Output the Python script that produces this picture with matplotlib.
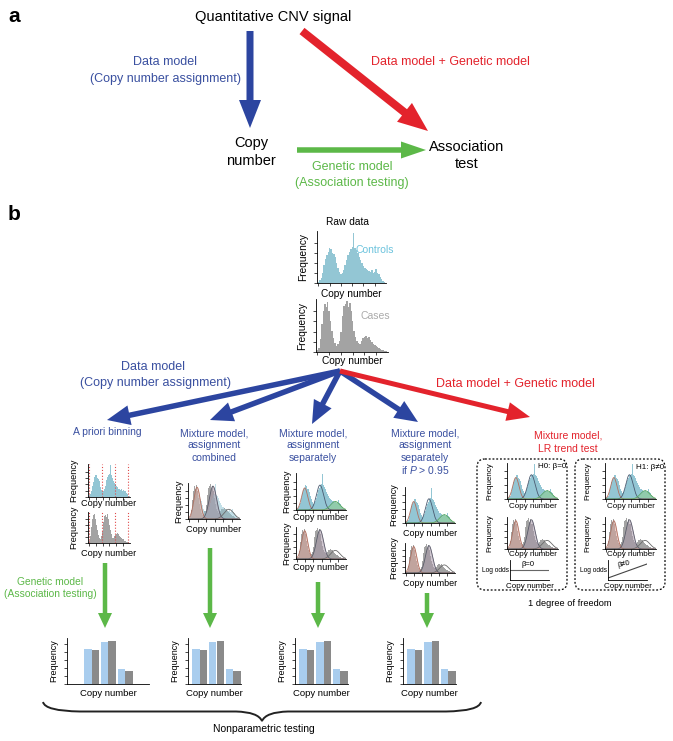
import numpy as np
import matplotlib
matplotlib.use("Agg")
import matplotlib.pyplot as plt
from matplotlib.path import Path
from matplotlib.patches import PathPatch, FancyBboxPatch

plt.rcParams['font.family'] = ['Liberation Sans', 'DejaVu Sans']
plt.rcParams['mathtext.fontset'] = 'custom'
plt.rcParams['mathtext.rm'] = 'Liberation Sans'
plt.rcParams['mathtext.it'] = 'Liberation Sans:italic'

# raw histogram heights (48 bins, relative)
controls_counts = [2, 5, 10, 20, 35, 48, 55, 62, 70, 68, 60, 58, 52, 40, 30, 22,
                   18, 20, 25, 35, 45, 55, 62, 68, 72, 100, 70, 66, 60, 52, 45, 40,
                   34, 30, 28, 26, 24, 22, 25, 20, 22, 28, 20, 18, 12, 8, 4, 2]
cases_counts = [3, 8, 25, 55, 80, 95, 88, 98, 80, 60, 42, 28, 18, 12, 15, 22,
                40, 70, 90, 95, 100, 88, 96, 80, 60, 42, 30, 22, 18, 16, 22, 28,
                30, 32, 28, 30, 24, 20, 16, 14, 12, 10, 8, 6, 4, 3, 2, 1]

# fitted mixture components (bin units)
comp_means = [7.5, 22.5, 37.5]
comp_sds = [3.0, 3.5, 4.5]
comp_h_controls = [62, 70, 24]
comp_h_cases = [92, 95, 28]

# a priori bin boundaries
binning_cuts = [0.5, 15.5, 30.5, 46]

# bar charts (assigned copy number counts)
bar_controls = [35, 42, 15]
bar_cases = [34, 43, 13]

BLUE = '#3a50a0'
BLUE_ARROW = '#2c45a0'
RED = '#e3232c'
GREEN = '#5cb848'
HIST_BLUE = '#93c6d4'
HIST_GREY = '#a3a3a3'
BAR_BLUE = '#a9cdee'
BAR_GREY = '#8a8a8a'

W, H = 673, 741
fig = plt.figure(figsize=(W / 100, H / 100), dpi=100)
bg = fig.add_axes([0, 0, 1, 1])
bg.set_xlim(0, W)
bg.set_ylim(H, 0)
bg.axis('off')


def px_axes(x0, y0, x1, y1):
    ax = fig.add_axes([x0 / W, 1 - y1 / H, (x1 - x0) / W, (y1 - y0) / H])
    ax.patch.set_alpha(0)
    for s in ['top', 'right']:
        ax.spines[s].set_visible(False)
    for s in ['left', 'bottom']:
        ax.spines[s].set_linewidth(0.6)
    ax.tick_params(length=2, width=0.5, labelleft=False, labelbottom=False)
    return ax


def txt(x, y, s, fs, color='black', **kw):
    bg.text(x, y, s, fontsize=fs, color=color, ha='center', va='center', **kw)


def arrow(x0, y0, x1, y1, color, w, hw, hl):
    bg.arrow(x0, y0, x1 - x0, y1 - y0, width=w, head_width=hw, head_length=hl,
             length_includes_head=True, color=color, lw=0)


def hist_panel(rect, counts, color, fs, xlab_y, ylab_x, comps=None, cuts=None,
               overlay=None):
    ax = px_axes(*rect)
    n = len(counts)
    ax.bar(np.arange(n), counts, width=1.0, color=color, lw=0)
    if overlay is not None:
        ax.bar(np.arange(n), overlay, width=1.0, color=HIST_BLUE, lw=0, alpha=0.55)
    if comps is not None:
        xs = np.linspace(-1, n, 300)
        for m, s, h, fc, ec in comps:
            ys = h * np.exp(-0.5 * ((xs - m) / s) ** 2)
            if fc is not None:
                ax.fill_between(xs, ys, color=fc, alpha=0.55, lw=0)
            ax.plot(xs, ys, color=ec, lw=0.6)
    if cuts is not None:
        for c in cuts:
            ax.axvline(c, color='#e04a4a', ls=':', lw=0.8)
    ax.set_xlim(-1, n)
    ax.set_ylim(0, max(counts) * 1.04)
    ax.set_xticks(np.arange(0, n, 8))
    ax.set_yticks(np.linspace(0, max(counts), 6)[:-1])
    cx = (rect[0] + rect[2]) / 2
    txt(cx, xlab_y, 'Copy number', fs)
    txt(ylab_x, (rect[1] + rect[3]) / 2, 'Frequency', fs, rotation=90)
    return ax


def comps_for(heights, kind):
    if kind == 'controls':
        styles = [(None, '#b07060'), (None, '#4a5a70'), ('#8fd08a', '#5aa860')]
    else:
        styles = [('#dba59b', '#b07060'), ('#a898a8', '#5a5a6a'), (None, '#6a6a6a')]
    return [(m, s, h, fc, ec) for m, s, h, (fc, ec) in
            zip(comp_means, comp_sds, heights, styles)]


# ---------------- panel a ----------------
txt(14, 17, 'a', 15, fontweight='bold')
txt(273, 17, 'Quantitative CNV signal', 10.5)
arrow(250, 31, 250, 128, BLUE_ARROW, 7, 22, 28)
arrow(302, 31, 428, 131, RED, 8, 24, 30)
arrow(297, 150, 426, 150, GREEN, 5.5, 17, 25)
txt(165, 62, 'Data model', 9, BLUE)
txt(165, 79, '(Copy number assignment)', 9, BLUE)
txt(450, 62, 'Data model + Genetic model', 9, RED)
txt(251, 143, 'Copy', 10.5)
txt(251, 161, 'number', 10.5)
txt(467, 147, 'Association', 10.5)
txt(467, 164, 'test', 10.5)
txt(352, 167, 'Genetic model', 9, GREEN)
txt(352, 183, '(Association testing)', 9, GREEN)

# ---------------- panel b ----------------
txt(14, 214, 'b', 15, fontweight='bold')
txt(348, 222, 'Raw data', 7.3)
hist_panel((317, 231, 386, 283), controls_counts, HIST_BLUE, 7.3, 294, 303)
txt(375, 250, 'Controls', 7.5, '#6cc3dd')
hist_panel((316, 299, 388, 352), cases_counts, HIST_GREY, 7.3, 361, 302)
txt(375, 316, 'Cases', 7.5, '#aaaaaa')

# branching arrows
ox, oy = 340, 371
for tx, ty in [(107, 420), (210, 420), (312, 424), (418, 422)]:
    arrow(ox, oy, tx, ty, BLUE_ARROW, 5.5, 20, 23)
arrow(ox, oy, 530, 417, RED, 5, 19, 23)
txt(153, 367, 'Data model', 9, BLUE)
txt(155, 383, '(Copy number assignment)', 9, BLUE)
txt(515, 384, 'Data model + Genetic model', 9, RED)

# column titles
txt(107, 432, 'A priori binning', 7.5, BLUE)
for i, s in enumerate(['Mixture model,', 'assignment', 'combined']):
    txt(214, 433 + 12.3 * i, s, 7.5, BLUE)
for i, s in enumerate(['Mixture model,', 'assignment', 'separately']):
    txt(313, 433 + 12.3 * i, s, 7.5, BLUE)
for i, s in enumerate(['Mixture model,', 'assignment', 'separately', r'if $P$ > 0.95']):
    txt(425, 433 + 12.3 * i, s, 7.5, BLUE)
txt(568, 436, 'Mixture model,', 7.5, RED)
txt(568, 448.5, 'LR trend test', 7.5, RED)

# column 1: a priori binning
hist_panel((88, 464, 130, 497), controls_counts, HIST_BLUE, 6.6, 504, 74, cuts=binning_cuts)
hist_panel((88, 512, 130, 543), cases_counts, HIST_GREY, 6.6, 553, 74, cuts=binning_cuts)

# column 2: combined
hist_panel((188, 483, 240, 519), cases_counts, HIST_GREY, 6.6, 529, 179,
           comps=comps_for(comp_h_cases, 'cases'), overlay=controls_counts)

# column 3: separately
hist_panel((296, 473, 346, 510), controls_counts, HIST_BLUE, 6.6, 518, 287,
           comps=comps_for(comp_h_controls, 'controls'))
hist_panel((296, 527, 346, 559), cases_counts, HIST_GREY, 6.6, 568, 287,
           comps=comps_for(comp_h_cases, 'cases'))

# column 4: separately if P > 0.95
hist_panel((405, 487, 455, 523), controls_counts, HIST_BLUE, 6.5, 533, 394,
           comps=comps_for(comp_h_controls, 'controls'))
hist_panel((405, 543, 455, 573), cases_counts, HIST_GREY, 6.5, 583, 394,
           comps=comps_for(comp_h_cases, 'cases'))

# column 5: LR trend test, two hypotheses
for k, (off, hyp) in enumerate([(0, 'H0: β=0'), (98, 'H1: β≠0')]):
    box = FancyBboxPatch((477 + off, 459), 90, 131, boxstyle='round,pad=0,rounding_size=8',
                         fill=False, ls=(0, (1.5, 1.5)), lw=0.9, ec='black')
    bg.add_patch(box)
    x0 = 507 + off
    hist_panel((x0, 463, x0 + 51, 499), controls_counts, HIST_BLUE, 5.8, 506, x0 - 17,
               comps=comps_for(comp_h_controls, 'controls'))
    txt(x0 + 45, 467, hyp, 5.8)
    hist_panel((x0, 517, x0 + 51, 549), cases_counts, HIST_GREY, 5.8, 555, x0 - 17,
               comps=comps_for(comp_h_cases, 'cases'))
    lo = px_axes(x0 + 3, 560, x0 + 42, 580)
    lo.set_xticks([])
    lo.set_yticks([])
    lo.set_xlim(0, 1)
    lo.set_ylim(0, 1)
    if k == 0:
        lo.plot([0, 1], [0.5, 0.5], color='#666666', lw=0.8)
        lo.text(0.45, 0.78, 'β=0', fontsize=5.5, ha='center', va='center')
    else:
        lo.plot([0, 1], [0.1, 0.8], color='#444444', lw=0.8)
        lo.text(0.4, 0.8, 'β≠0', fontsize=5.5, ha='center', va='center', rotation=12)
    bg.text(x0 + 2, 571, 'Log odds', fontsize=4.8, ha='right', va='center')
    txt(x0 + 23, 586, 'Copy number', 5.8)
txt(570, 604, '1 degree of freedom', 6.7)

# genetic model arrows
txt(50, 582, 'Genetic model', 7.4, GREEN)
txt(50, 594, '(Association testing)', 7.4, GREEN)
for gx, gy in [(105, 563), (210, 548), (318, 582), (427, 593)]:
    arrow(gx, gy, gx, 628, GREEN, 4.5, 14, 15)

# bottom bar charts
for lx, (xl0, xl1), right in [(67, (-0.46, 4.42), 149), (188, (0.29, 3.47), 241),
                              (295, (0.29, 3.47), 348), (403, (0.29, 3.47), 456)]:
    ax = px_axes(lx, 638, right, 684)
    cats = np.arange(1, len(bar_controls) + 1)
    ax.bar(cats - 0.225, bar_controls, width=0.45, color=BAR_BLUE, lw=0)
    ax.bar(cats + 0.225, bar_cases, width=0.45, color=BAR_GREY, lw=0)
    ax.set_xlim(xl0, xl1)
    ax.set_ylim(0, 46)
    ax.set_xticks([])
    ax.set_yticks(np.arange(0, 46, 8))
    txt((lx + right) / 2, 693, 'Copy number', 6.8)
    txt(lx - 13, 661, 'Frequency', 6.5, rotation=90)

# brace
verts = [(43, 702), (45, 711), (80, 711.5), (236, 711.5), (258, 712), (262, 721),
         (266, 712), (288, 711.5), (446, 711.5), (479, 711), (481, 702)]
codes = [Path.MOVETO, Path.CURVE3, Path.CURVE3, Path.LINETO, Path.CURVE3, Path.CURVE3,
         Path.CURVE3, Path.CURVE3, Path.LINETO, Path.CURVE3, Path.CURVE3]
bg.add_patch(PathPatch(Path(verts, codes), fill=False, lw=1.4, ec='#222222'))
txt(264, 729, 'Nonparametric testing', 7.5)

fig.savefig('out.png', dpi=100)
